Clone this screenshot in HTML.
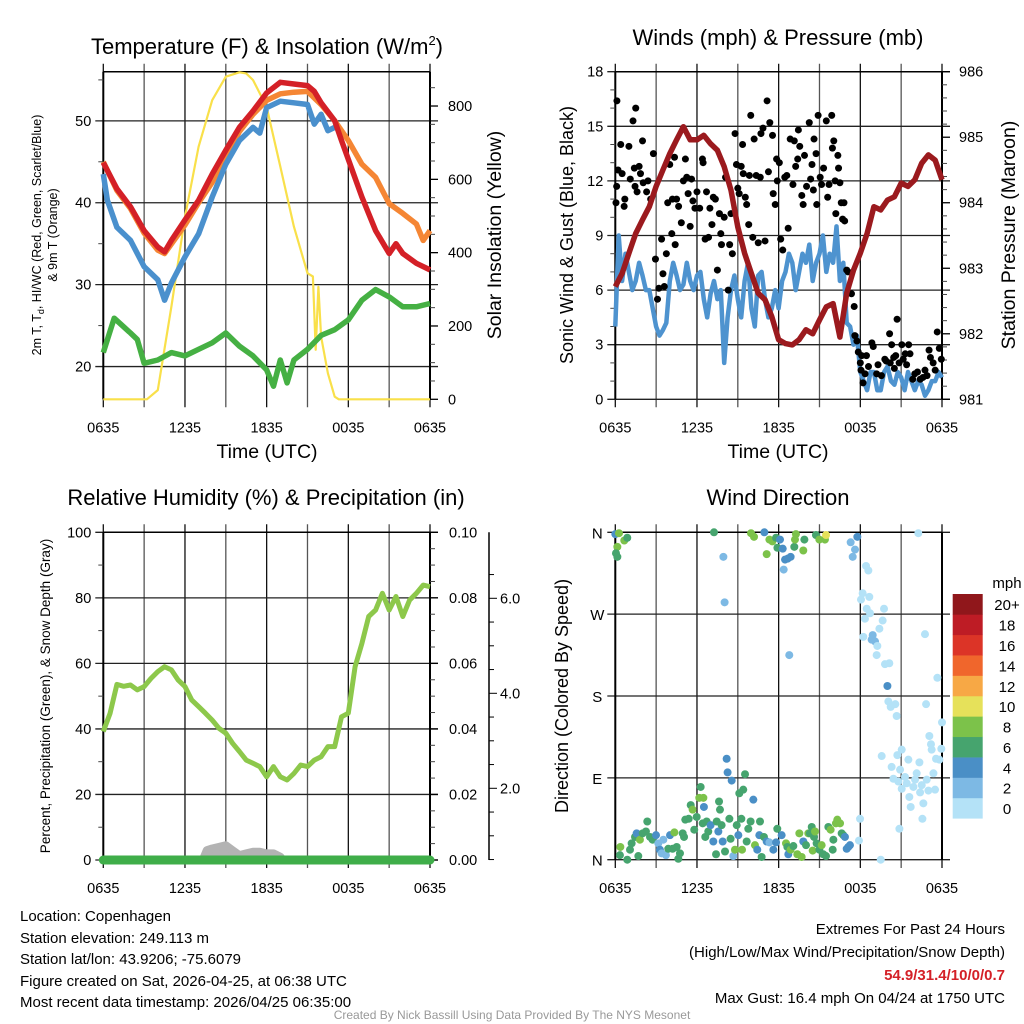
<!DOCTYPE html>
<html><head><meta charset="utf-8"><style>
html,body{margin:0;padding:0;background:#fff;}
svg{display:block;font-family:"Liberation Sans",Arial,sans-serif;}
</style></head><body>
<svg id="root" width="1024" height="1024" viewBox="0 0 1024 1024" xmlns="http://www.w3.org/2000/svg">
<rect x="0" y="0" width="1024" height="1024" fill="#fff"/>
<text x="267" y="54" font-size="22" text-anchor="middle">Temperature (F) &amp; Insolation (W/m<tspan font-size="13" dy="-9">2</tspan><tspan dy="9">)</tspan></text>
<text x="778" y="45" font-size="22" text-anchor="middle">Winds (mph) &amp; Pressure (mb)</text>
<text x="266" y="505" font-size="22" text-anchor="middle">Relative Humidity (%) &amp; Precipitation (in)</text>
<text x="778" y="505" font-size="22" text-anchor="middle">Wind Direction</text>

<text transform="translate(41,235) rotate(-90)" font-size="12.5" text-anchor="middle">2m T, T<tspan font-size="9" dy="3">d</tspan><tspan dy="-3">, HI/WC (Red, Green, Scarlet/Blue)</tspan></text>
<text transform="translate(57,235) rotate(-90)" font-size="12.5" text-anchor="middle">&amp; 9m T (Orange)</text>
<text transform="translate(501,235) rotate(-90)" font-size="19.5" text-anchor="middle">Solar Insolation (Yellow)</text>
<text x="267" y="458" font-size="19.5" text-anchor="middle">Time (UTC)</text>

<text transform="translate(573,235) rotate(-90)" font-size="18" text-anchor="middle">Sonic Wind &amp; Gust (Blue, Black)</text>
<text transform="translate(1015,235) rotate(-90)" font-size="19.5" text-anchor="middle">Station Pressure (Maroon)</text>
<text x="778" y="458" font-size="19.5" text-anchor="middle">Time (UTC)</text>

<text transform="translate(50,696) rotate(-90)" font-size="13.5" text-anchor="middle">Percent, Precipitation (Green), &amp; Snow Depth (Gray)</text>
<text transform="translate(568,696) rotate(-90)" font-size="18" text-anchor="middle">Direction (Colored By Speed)</text>

<g font-size="15">
<text x="20" y="921">Location: Copenhagen</text>
<text x="20" y="943">Station elevation: 249.113 m</text>
<text x="20" y="964">Station lat/lon: 43.9206; -75.6079</text>
<text x="20" y="986">Figure created on Sat, 2026-04-25, at 06:38 UTC</text>
<text x="20" y="1007">Most recent data timestamp: 2026/04/25 06:35:00</text>
</g>
<g font-size="15" text-anchor="end">
<text x="1005" y="934">Extremes For Past 24 Hours</text>
<text x="1005" y="957">(High/Low/Max Wind/Precipitation/Snow Depth)</text>
<text x="1005" y="980" fill="#d42027" font-weight="bold">54.9/31.4/10/0/0.7</text>
<text x="1005" y="1003">Max Gust: 16.4 mph On 04/24 at 1750 UTC</text>
</g>
<text x="512" y="1019" font-size="12" fill="#999" text-anchor="middle">Created By Nick Bassill Using Data Provided By The NYS Mesonet</text>
</svg>
<script>
// ---------- Panel 1 data ----------
const tRed=[0,1,2,3,4,4.5,5,6,7,8,9,10,11,12,13,14,15,15.5,16,17,17.5,18,19,20,21,21.5,22,23,24];
const vRed=[44.9,41.7,39.5,36.6,34.6,34,35.4,37.9,40.3,43.5,46.4,49.2,51.2,53.4,54.7,54.5,54.3,53.6,52.2,50,47.6,45.3,40.7,36.6,33.8,35,33.8,32.6,31.8];
const tOrange=[0,1,2,3,4,4.5,6,7,8,9,10,11,12,13,14,15,16,17,18,19,20,21,22,23,23.5,24];
const vOrange=[45,41.5,39.3,36.3,34.2,33.8,37.3,40,42.5,45.5,48.7,50.8,52.5,53.3,53.5,53.6,52,50,47.6,44.7,43.1,39.9,38.7,37.4,35.4,36.6];
const tBlue=[0,0.3,1,2,3,4,4.5,5,6,7,8,9,10,11,11.5,12,13,14,15,15.5,16,16.5,17];
const vBlue=[43.5,40.3,37,35.4,32.2,30.6,28.1,30.2,33.4,36.2,40.7,44.7,47.6,49.2,48.5,51.6,52.4,52.2,52,49.6,50.8,48.8,49.2];
const tGreen=[0,0.8,2,2.5,3,4,5,6,7,8,9,10,11,12,12.5,13,13.5,14,15,16,17,18,19,20,21,22,23,24];
const vGreen=[21.7,25.9,24.1,23.3,20.4,20.8,21.7,21.3,22.1,22.9,24.1,22.5,21.3,19.6,17.6,20.8,18,20.8,22.1,23.8,24.5,25.7,28.1,29.4,28.5,27.3,27.3,27.7];
const tSolar=[0,3.2,4,5,6,7,8,9,10,10.5,11,12,13,14,15,15.4,15.6,15.8,16,16.5,17,17.3,24];
const vSolar=[0,0,25,253,498,689,816,880,892,889,871,798,635,471,344,335,135,307,171,71,7,0,0];
const tempTicks=[20,30,40,50];
const solarTicks=[0,200,400,600,800];
const timeLabels=["0635","1235","1835","0035","0635"];
// ---------- Panel 2 data ----------
const windQuarter=[4,9,6.5,8,7,6,6.5,7.5,6.8,6,6,5,4,3.5,3.8,4.2,6.5,7.5,6.8,6,6.3,7.5,6.5,6,6.8,7,5.5,4.5,5.8,6.5,5.5,6,2,4.5,6,6.8,5.5,4.5,6.5,7.5,5,4,6.8,7,5.5,4.5,5,6,5,6.5,7,8,7.5,6,7,8,7.5,8.5,6.5,7.5,8,9,7,8,7.5,9.5,6.5,7.5,4.2,4,3,3.5,1.5,1,0.5,1.5,1.5,0.5,0.5,1.5,1.8,1,0.8,1.5,1.2,0.5,1.5,1,0.5,1,0.8,0.2,0.5,1,1,1.5,1.2];
const pressHalf=[982.72,982.92,983.23,983.53,983.74,983.94,984.25,984.5,984.75,984.96,985.16,984.96,984.96,985.03,984.9,984.8,984.55,984.19,983.63,983.23,982.92,982.62,982.52,982.26,981.91,981.85,981.83,981.91,982.06,982.0,982.21,982.41,982.46,981.95,982.62,982.97,983.23,983.53,983.94,983.89,984.04,984.09,984.3,984.25,984.35,984.6,984.73,984.65,984.35];
const gustT=[0.12,0.05,0.1,0.2,0.4,0.5,0.7,0.65,1,1.1,1.3,1.4,1.5,1.45,1.6,1.75,1.85,2,2.05,2.3,2.4,2.6,2.8,2.95,3.1,3.2,3.4,3.5,3.6,3.75,3.85,4,4.15,4.2,4.35,4.4,4.5,4.65,4.85,5,5.15,5.25,5.35,5.5,5.6,5.7,5.85,6,6.2,6.4,6.45,6.6,6.7,6.85,6.95,7.1,7.2,7.35,7.5,7.65,7.75,7.8,8,8.1,8.3,8.4,8.5,8.6,8.8,8.9,9,9.1,9.25,9.35,9.4,9.55,9.65,9.8,9.85,9.95,10.1,10.2,10.35,10.5,10.65,10.7,10.85,11,11.15,11.25,11.35,11.55,11.6,11.75,11.85,11.9,12.05,12.15,12.3,12.45,12.6,12.7,12.85,13.05,13.15,13.25,13.4,13.45,13.55,13.7,13.8,13.9,14.05,14.25,14.35,14.45,14.55,14.6,14.75,14.8,14.9,15.05,15.15,15.3,15.5,15.6,15.7,15.9,15.95,16.05,16.15,16.2,16.35,16.4,16.5,16.6,16.7,16.8,16.85,17,17.1,17.35,17.55,17.6,17.75,17.85,18,18.05,18.1,18.2,18.35,18.45,18.6,18.85,18.95,19.2,19.3,19.55,19.8,19.9,20.15,20.2,20.3,20.45,20.5,20.6,20.7,20.85,21.05,21.15,21.3,21.4,21.55,21.65,21.85,22,22.2,22.4,22.6,22.75,22.9,23.05,23.15,23.35,23.5,23.65,23.8,23.95];
const gustV=[16.4,10.8,11.7,12.6,14,12.4,11,10.6,13.9,12.1,15.3,12.7,16,11.7,11.4,12.8,12.4,14.2,11.9,11.4,12,11,13.5,7.7,5.5,6.1,8.8,6.9,6.2,8,10.8,12.9,9.1,11,13.3,8.5,11,10.6,9.7,12,13.2,12.2,11.3,9.5,12.1,10.9,10.5,11.4,10.5,13.2,13,8.8,11.4,8.9,10.5,9.6,11.1,11,7.1,10.2,9.1,8.5,10,12.2,6,8.5,10.2,8,14.6,12.9,11.6,11.3,12.8,14,12.4,11.1,10.7,9.6,12.3,15.6,8.9,14.3,12.3,8.6,12.2,14.6,14.9,8.7,16.4,12.5,15.2,14.5,11.3,10.7,13.2,12,13,8.8,8.2,12.2,12.3,9.4,14.3,11.8,14.2,12.8,13.2,14.8,13.9,11.2,10.7,13.4,11.7,15.2,12.1,12.9,11.5,14.3,13.5,10.7,15.6,12.2,11.8,12.7,15.3,11.1,11.8,15.6,13.8,14.2,12,10.2,13.4,12.7,11.9,10.8,9.9,10.8,9.8,7.1,7,5.8,5.1,3.5,3.2,2.6,2,1.6,2.4,0.9,1.4,2.4,1.8,3.1,2.9,1.4,1.9,1.3,2.2,2.1,3.6,2,3,2.3,1.7,2.4,4.4,2,3,2.2,2.5,1.9,3,2.5,1.1,1.4,1.5,1.1,1.2,1.6,1.3,2.7,2.3,2,1.6,3.7,2.8,2.2];
const windTicks=[0,3,6,9,12,15,18];
const pressTicks=[981,982,983,984,985,986];
// ---------- Panel 3 data ----------
const rhHalf=[39.2,44.8,53.6,53,53.4,51.9,52.9,55.4,57.5,59,58,54.9,52.9,48.8,46.8,44.8,42.7,40.2,38.7,35.6,33.1,30.5,29.5,28.5,25.4,28.5,25.4,24.4,26.4,29,28.5,30.5,31.5,34.6,34.6,43.7,44.8,59,66.1,74.3,76.3,81.4,76.3,80.4,74.3,79.3,81.4,83.9,83.4];
const snowT=[7.3,7.6,8,8.5,9,9.5,10,10.5,11,11.5,12,12.5,13,13.2];
const snowV=[0,3,3.5,4,4.5,3,1.5,2,2.5,2.5,2,2,1,0];
const precipT=[0,24];
const precipV=[0,0];
const rhTicks=[0,20,40,60,80,100];
const precipTicks=["0.00","0.02","0.04","0.06","0.08","0.10"];
const snowTicks=["2.0","4.0","6.0"];
// ---------- Panel 4 data ----------
const dirT=[0,0.27,0.15,0.05,0.15,0.66,0.88,7.25,7.94,8.03,9.97,10.19,10.95,11.12,11.32,11.54,11.81,11.91,12.1,12.3,12.47,12.66,12.88,12.37,13.15,13.27,13.2,13.81,13.89,14.74,14.99,15.4,15.48,12.78,17.29,17.61,17.44,17.78,
18.42,18.59,18.17,18.05,18.66,18.47,18.71,18.34,19.74,19.64,18.22,18.91,18.83,19.08,19.25,19.4,19.2,19.81,20.13,19.99,22.75,22.26,20.06,20.23,20.57,20.67,22.83,23.66,24,23.07,23.19,23.24,23.95,23.56,23.81,19.57,20.72,21.04,21.53,22.34,20.3,20.43,20.79,20.92,21.04,21.28,21.41,21.6,21.7,21.9,22.02,22.14,22.39,22.51,22.63,22.88,23,23.37,23.49,22.56,20.87,17.98,17.9,19.5,
0.37,0.34,0.88,1.08,1.2,1.45,1.57,1.69,1.81,2.01,2.25,2.35,2.55,2.74,2.99,3.16,3.28,3.4,3.53,3.72,3.89,4.02,4.21,4.34,4.51,4.63,4.75,4.95,5.05,5.14,5.39,5.54,5.68,5.8,5.98,6.17,6.27,6.47,6.51,6.42,6.61,6.71,6.83,7,7.2,7.4,7.45,7.57,7.62,7.69,7.81,7.89,8.06,8.18,8.25,8.38,8.47,8.55,8.67,8.79,8.92,9.04,9.11,9.26,9.31,9.4,9.53,9.65,9.77,9.94,10.14,10.26,10.43,10.58,10.63,10.75,10.92,11.12,11.32,11.61,11.81,11.9,12.22,12.54,12.64,12.71,12.88,13.08,13.37,13.52,13.69,13.81,14.01,14.18,14.3,14.43,14.5,14.6,14.67,14.79,14.99,15.16,15.28,15.48,15.65,15.82,15.97,16.02,16.21,16.31,16.51,16.63,16.75,16.87,17,17.12,17.24];
const dirDeg=[358,359,344,337,333,351,354,360,333,283,359,355,360,336,352,350,354,343,352,342,330,331,333,319,344,358,352,340,352,357,352,352,357,225,349,341,333,355,
323,318,293,286,289,276,271,265,276,263,245,247,242,240,235,254,225,215,216,191,248,359,174,168,171,158,171,200,151,136,127,121,122,111,110,114,115,121,110,107,102,89,86,99,78,91,84,69,58,80,88,95,74,82,62,88,76,95,77,45,34,45,21,0,
14,5,0,11,18,25,29,4,22,29,31,42,25,22,27,18,11,7,22,5,12,27,12,30,14,1,7,29,25,44,45,60,55,33,47,68,80,68,58,40,25,42,31,38,20,6,42,31,64,55,38,20,9,111,96,45,23,87,4,11,38,27,73,45,11,77,94,20,34,42,66,16,11,27,42,3,25,20,19,11,19,34,27,18,14,6,11,15,6,29,3,20,16,29,29,36,10,25,31,18,11,16,6,4,36,33,11,22,40,44,40,29,27,25,12,14,16];
const dirSpd=[5,9,9,7,7,9,7,7,3,3,9,9,5,9,9,9,7,7,5,5,5,5,5,3,7,9,9,9,7,7,9,9,11,3,3,3,3,5,
1,1,1,1,1,1,1,1,1,1,1,3,3,3,1,1,1,1,1,5,1,1,1,1,1,1,1,1,1,1,1,1,1,1,1,1,1,1,1,1,1,1,1,1,1,1,1,1,1,1,1,1,1,1,1,1,1,1,1,1,1,1,1,1,
9,7,7,7,7,7,5,7,9,7,7,7,7,7,5,3,5,3,3,3,7,5,7,9,7,7,7,7,7,7,7,7,9,7,7,9,7,9,5,7,7,7,7,5,5,7,7,5,7,7,7,5,7,5,5,7,7,5,3,9,7,5,7,7,9,7,7,7,7,7,5,9,5,5,7,7,7,5,3,5,5,7,5,9,7,5,9,7,9,9,9,5,7,9,7,7,9,7,9,7,7,9,7,7,7,9,7,7,9,9,9,7,7,5,5,5,5];
const dirLabels=["N","E","S","W","N"];
const dirTickDeg=[0,90,180,270,360];
const speedBins=["0","2","4","6","8","10","12","14","16","18","20+"];
const speedColors=["#b4e2f7","#7db9e4","#4a8fc6","#46a46e","#7cc24a","#e6e15a","#f7a845","#f0662c","#dc3427","#be1c25","#90171b"];

// ---------- scales ----------
const L1=103.3,R1=430,L2=615.3,R2=942,T1=71.7,B1=399.3,T2=532.3,B2=860;
const xA=t=>L1+t*(R1-L1)/24;
const xB=t=>L2+t*(R2-L2)/24;
const yTemp=f=>B1-(f-16)*(B1-T1)/40;
const ySol=w=>B1-w*0.3666;
const yWind=m=>B1-m*(B1-T1)/18;
const yPres=p=>B1-(p-981)*(B1-T1)/5;
const yRH=v=>B2-v*(B2-T2)/100;
const yDir=d=>859.7-d*(859.7-532.3)/360;

const NS="http://www.w3.org/2000/svg";
const root=document.getElementById('root');
function mk(tag,attrs,parent){const e=document.createElementNS(NS,tag);for(const k in attrs)e.setAttribute(k,attrs[k]);(parent||root).appendChild(e);return e;}
function txt(x,y,s,size,anchor,parent){const e=mk('text',{x:x,y:y,'font-size':size,'text-anchor':anchor},parent);e.textContent=s;return e;}
function ptsOf(ts,vs,xf,yf){return ts.map((t,i)=>xf(t).toFixed(1)+','+yf(vs[i]).toFixed(1)).join(' ');}

function frame(L,R,T,B,name,hTicks,yf){
  const g=mk('g',{});
  
  
  for(let i=0;i<=8;i++){const x=L+i*(R-L)/8;
    const ln=mk('line',{x1:x,y1:T-8,x2:x,y2:B+8,stroke:(i%2?'#555':'#111'),'stroke-width':1.3},g);
    
    }
  hTicks.forEach(v=>{const y=yf(v);
    const ln=mk('line',{x1:L-8,y1:y,x2:R+8,y2:y,stroke:'#222','stroke-width':1.3},g);
    
    });
  const bl=mk('line',{x1:L,y1:T,x2:L,y2:B,stroke:'#000','stroke-width':2},g);
  
  
  const br=mk('line',{x1:R,y1:T,x2:R,y2:B,stroke:'#000','stroke-width':2},g);
  
  
  const tl=mk('line',{x1:L,y1:T,x2:R,y2:T,stroke:'#000','stroke-width':1.5},g);
  
  
  timeLabels.forEach((s,i)=>{const t=txt(L+i*(R-L)/4,B+33,s,14.5,'middle');
    
    });
}
function minor(x,vals,yf,dir){vals.forEach(v=>{const y=yf(v);
  const ln=mk('line',{x1:x,y1:y,x2:x+dir*5,y2:y,stroke:'#444','stroke-width':1});
  
  });}

// ---------- Panel 1 ----------
frame(L1,R1,T1,B1,'temperature',tempTicks,yTemp);
minor(L1,[25,35,45,55],yTemp,-1);
minor(R1,[50,100,150,250,300,350,450,500,550,650,700,750,850],ySol,1);
tempTicks.forEach(v=>{const t=txt(L1-12,yTemp(v)+5,String(v),14.5,'end');
  
  });
solarTicks.forEach(v=>{const y=ySol(v);
  const tk=mk('line',{x1:R1,y1:y,x2:R1+8,y2:y,stroke:'#000','stroke-width':1.3});
  
  
  const t=txt(R1+18,y+5,String(v),14.5,'start');
  
  });
const solarLine=mk('polyline',{points:ptsOf(tSolar,vSolar,xA,ySol),fill:'none',stroke:'#f9e04a','stroke-width':2.2,'stroke-linejoin':'round'});


const greenLine=mk('polyline',{points:ptsOf(tGreen,vGreen,xA,yTemp),fill:'none',stroke:'#45b043','stroke-width':5.5,'stroke-linejoin':'round'});


const orangeLine=mk('polyline',{points:ptsOf(tOrange,vOrange,xA,yTemp),fill:'none',stroke:'#f58634','stroke-width':5.5,'stroke-linejoin':'round'});


const blueLine=mk('polyline',{points:ptsOf(tBlue,vBlue,xA,yTemp),fill:'none',stroke:'#4a90cd','stroke-width':5.5,'stroke-linejoin':'round'});


const redLine=mk('polyline',{points:ptsOf(tRed,vRed,xA,yTemp),fill:'none',stroke:'#d42027','stroke-width':5.5,'stroke-linejoin':'round'});



// ---------- Panel 2 ----------
frame(L2,R2,T1,B1,'winds',windTicks,yWind);
minor(L2,[1,2,4,5,7,8,10,11,13,14,16,17],yWind,-1);
const pm=[];for(let p=981.2;p<986;p+=0.2){if(Math.abs(p-Math.round(p))>0.05)pm.push(p);}
minor(R2,pm,yPres,1);
windTicks.forEach(v=>{const t=txt(L2-12,yWind(v)+5,String(v),14.5,'end');
  
  });
pressTicks.forEach(v=>{const y=yPres(v);
  const tk=mk('line',{x1:R2,y1:y,x2:R2+8,y2:y,stroke:'#000','stroke-width':1.3});
  
  
  const t=txt(R2+17,y+5,String(v),14.5,'start');
  
  });
const windLine=mk('polyline',{points:ptsOf(windQuarter.map((v,i)=>i*0.25),windQuarter,xB,yWind),fill:'none',stroke:'#4e93cf','stroke-width':4.5,'stroke-linejoin':'round'});


const gustG=mk('g',{fill:'#000'});


gustT.forEach((t,i)=>{const c=mk('circle',{cx:xB(t),cy:yWind(gustV[i]),r:3.5},gustG);
  
  });
const presLine=mk('polyline',{points:ptsOf(pressHalf.map((v,i)=>i*0.5),pressHalf,xB,yPres),fill:'none',stroke:'#9b1a1e','stroke-width':5.5,'stroke-linejoin':'round'});



// ---------- Panel 3 ----------
frame(L1,R1,T2,B2,'humidity',rhTicks,yRH);
minor(L1,[10,30,50,70,90],yRH,-1);
const rm=[];for(let v=5;v<100;v+=5){if(v%20!==0)rm.push(v);}
minor(R1,rm,yRH,1);
rhTicks.forEach(v=>{const t=txt(L1-12,yRH(v)+5,String(v),14.5,'end');
  
  });
precipTicks.forEach((s,i)=>{const y=yRH(i*20);
  const tk=mk('line',{x1:R1,y1:y,x2:R1+8,y2:y,stroke:'#000','stroke-width':1.3});
  
  
  const t=txt(R1+19,y+5,s,14.5,'start');
  
  });
const snowAxis=mk('line',{x1:489,y1:T2,x2:489,y2:B2,stroke:'#000','stroke-width':1.5});


const ySnow=v=>883.3-v*47.5;
for(let v=0.5;v<7;v+=0.5){const y=ySnow(v);if(y<T2||y>B2)continue;const major=Math.abs(v-Math.round(v/2)*2)<0.01;
  const tk=mk('line',{x1:489,y1:y,x2:489+(major?8:5),y2:y,stroke:'#000','stroke-width':1});
  
  }
snowTicks.forEach(s=>{const t=txt(500,ySnow(parseFloat(s))+5,s,14.5,'start');
  
  });
const snowLine=mk('polyline',{points:ptsOf(snowT,snowV,xA,yRH),fill:'#b3b3b3',stroke:'#b3b3b3','stroke-width':8,'stroke-linejoin':'round'});


const precipLine=mk('polyline',{points:ptsOf(precipT,precipV,xA,yRH),fill:'none',stroke:'#3fae49','stroke-width':9,'stroke-linecap':'round'});


const rhLine=mk('polyline',{points:ptsOf(rhHalf.map((v,i)=>i*0.5),rhHalf,xA,yRH),fill:'none',stroke:'#8dc84b','stroke-width':5,'stroke-linejoin':'round'});



// ---------- Panel 4 ----------
frame(L2,R2,T2,B2,'direction',dirTickDeg,yDir);
dirLabels.forEach((s,i)=>{const t=txt(L2-18,yDir(dirTickDeg[i])+6,s,15,'middle');
  
  });
const colorFor=s=>speedColors[Math.min(10,Math.floor(s/2))];
const dirG=mk('g',{});


dirT.forEach((t,i)=>{const c=mk('circle',{cx:xB(t),cy:yDir(dirDeg[i]),r:4,fill:colorFor(dirSpd[i])},dirG);
  
  });
const cb=mk('g',{});


const cbTop=594,cbH=(818.3-594)/11;
speedBins.forEach((s,i)=>{const y=cbTop+(10-i)*cbH;
  const r=mk('rect',{x:952.7,y:y,width:30,height:cbH+0.3,fill:speedColors[i]},cb);
  
  
  const t=txt(1007,y+cbH/2+6,s,15,'middle',cb);
  
  });
const mph=txt(1007,588,'mph',15,'middle',cb);


</script>
</body></html>
